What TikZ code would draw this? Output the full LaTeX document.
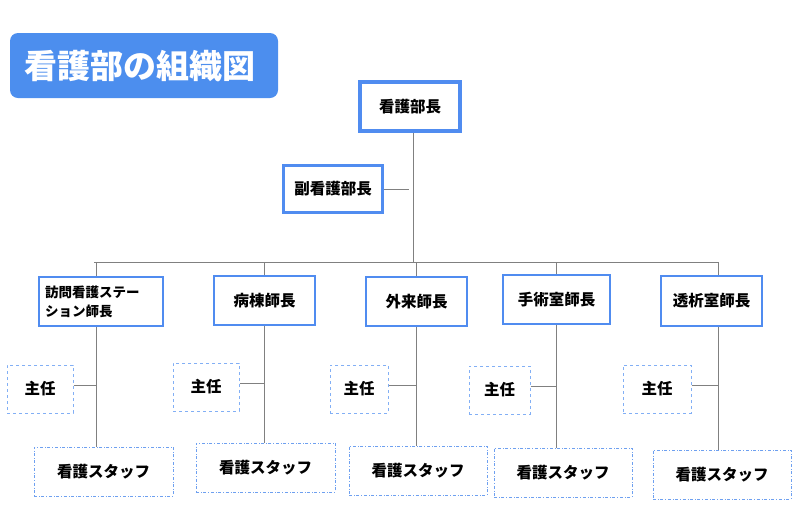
\documentclass[tikz,border=0pt]{standalone}
\usepackage{fontspec}
\setmainfont{Noto Sans CJK JP}
\begin{document}
\begin{tikzpicture}[x=1pt,y=-1pt,
  box/.style={draw={rgb,255:red,80;green,140;blue,240},line width=1.2pt,fill=white,font=\bfseries\fontsize{15.5}{18}\selectfont},
  dsh/.style={draw={rgb,255:red,130;green,175;blue,245},dashed,line width=1pt,fill=white,font=\bfseries\fontsize{15.5}{18}\selectfont},
  dd/.style={draw={rgb,255:red,110;green,160;blue,240},dash dot,line width=1pt,fill=white,font=\bfseries\fontsize{15.5}{18}\selectfont},
  ln/.style={draw=gray,line width=0.8pt}]
\definecolor{tb}{RGB}{76,142,238}
\useasboundingbox (0,0) rectangle (800,523);
\fill[tb,rounded corners=8pt] (10,33) rectangle (278,98);
\node[text=white,font=\bfseries\fontsize{33}{36}\selectfont] (title) at (140,66) {看護部の組織図};
\draw[ln] (94,262) -- (718,262);
\foreach \i/\x/\ya/\yb/\ys/\yst/\xa/\xb/\xsa/\xsb/\xta/\xtb/\ytb/\ytt/\ysb/\sy/\t in {
 1/96/277/326/385/447/39/163/34/173/7/73/412/364/496/385/{\parbox{112pt}{\fontsize{13.5}{19}\selectfont 訪問看護ステー\\ション師長}},
 2/264/276/325/383/443/214/315/196/335/173/239/411/362/493/383/病棟師長,
 3/416/277/326/385/446/366/467/349/487/330/388/411/363/496/385/外来師長,
 4/556/275/324/386/448/503/610/494/632/469/530/411/363/497/386/手術室師長,
 5/718/276/326/385/450/661/762/653/791/623/691/410/362/498/385/透析室師長}{
 \draw[ln] (\x,262) -- (\x,\ysb);
 \node[box,minimum width={\xb-\xa},minimum height={\yb-\ya},inner sep=0pt] (h\i) at ({(\xa+\xb)/2},{(\ya+\yb)/2}) {\t};
 \node[dd,minimum width={\xsb-\xsa},minimum height=49,inner sep=0pt] (s\i) at ({(\xsa+\xsb)/2},{\yst+24.5}) {看護スタッフ};
 \node[dsh,minimum width={\xtb-\xta},minimum height=48,inner sep=0pt] (c\i) at ({(\xta+\xtb)/2},{\sy+4}) {主任};
 \draw[ln] (c\i.east |- 0,\sy) -- (\x,\sy);
}
\draw[ln] (413,133) -- (413,262);
\node[box,line width=4pt,minimum width=100,minimum height=49,inner sep=0pt] (top) at (410,106.5) {看護部長};
\node[box,line width=3pt,minimum width=99,minimum height=47,inner sep=0pt] (vice) at (333,189) {副看護部長};
\draw[ln] (vice.east) -- (409,189);
\end{tikzpicture}
\end{document}
